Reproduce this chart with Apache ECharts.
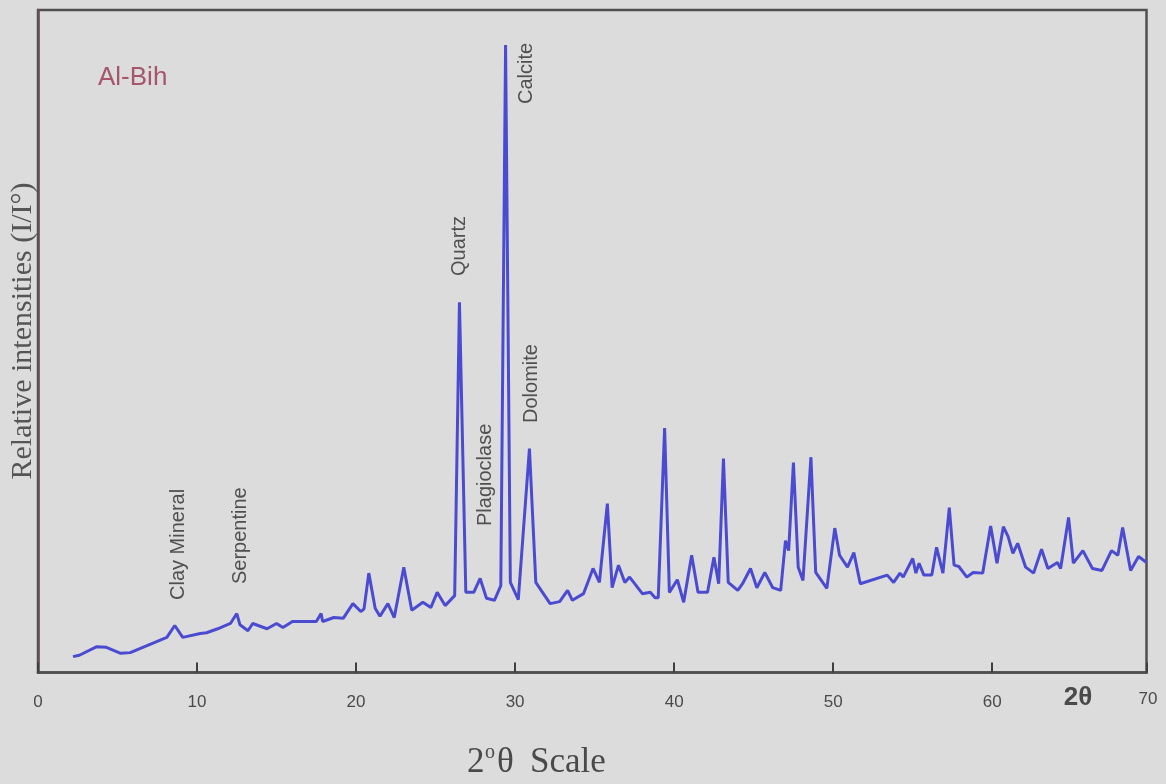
<!DOCTYPE html>
<html>
<head>
<meta charset="utf-8">
<title>Al-Bih XRD</title>
<script src="https://cdn.jsdelivr.net/npm/echarts@6/dist/echarts.min.js"></script>
<style>
  html, body { margin: 0; padding: 0; background: #dcdcdc; }
  #main { width: 1166px; height: 784px; }
</style>
</head>
<body>
<div id="main"></div>
<script>
// 2-theta positions (degrees) and relative intensity (0-100)
var twoTheta = [
  2.2, 2.6, 3.7, 4.3, 5.2, 5.8, 8.1, 8.6, 9.1, 10.2, 10.6, 11.3, 12.1, 12.5, 12.7,
  13.2, 13.5, 14.4, 15.0, 15.4, 16.0, 17.5, 17.8, 17.9, 18.6, 19.2, 19.8, 20.3, 20.5,
  20.8, 21.2, 21.5, 22.0, 22.4, 23.0, 23.5, 24.2, 24.7, 25.1, 25.6, 26.2, 26.5, 26.9,
  27.4, 27.8, 28.2, 28.7, 29.1, 29.4, 29.7, 30.2, 30.9, 31.3, 32.2, 32.8, 33.3, 33.6,
  34.3, 34.9, 35.3, 35.8, 36.1, 36.5, 36.9, 37.2, 38.0, 38.5, 38.8, 39.0, 39.4, 39.7,
  40.2, 40.6, 41.1, 41.5, 42.1, 42.5, 42.8, 43.1, 43.4, 44.0, 44.3, 44.8, 45.2, 45.7,
  46.2, 46.7, 47.0, 47.2, 47.5, 47.8, 48.1, 48.6, 48.9, 49.6, 50.1, 50.4, 50.9, 51.3,
  51.7, 53.4, 53.8, 54.2, 54.4, 55.0, 55.2, 55.4, 55.7, 56.2, 56.5, 56.9, 57.3, 57.6,
  57.9, 58.4, 58.8, 59.4, 59.9, 60.3, 60.7, 61.0, 61.3, 61.6, 62.1, 62.6, 63.1, 63.5,
  64.1, 64.3, 64.8, 65.1, 65.7, 66.3, 66.9, 67.5, 67.9, 68.2, 68.7, 69.2, 69.7
];
var intensity = [
  2.4, 2.6, 3.9, 3.8, 2.9, 3.0, 5.3, 7.1, 5.3, 5.9, 6.0, 6.6, 7.4, 8.9, 7.2,
  6.3, 7.4, 6.6, 7.4, 6.8, 7.7, 7.7, 8.9, 7.7, 8.3, 8.2, 10.4, 9.2, 9.6,
  15.0, 9.7, 8.5, 10.4, 8.3, 15.9, 9.4, 10.6, 9.8, 12.1, 10.1, 11.6, 55.9, 12.1,
  12.1, 14.2, 11.2, 10.9, 13.1, 94.7, 13.6, 11.0, 33.8, 13.6, 10.4, 10.7, 12.4, 10.9,
  11.9, 15.7, 13.6, 25.5, 12.8, 16.2, 13.6, 14.4, 11.9, 12.1, 11.3, 11.3, 36.9, 12.1,
  14.0, 10.6, 17.7, 12.1, 12.1, 17.4, 13.4, 32.3, 13.6, 12.4, 13.4, 15.7, 12.8, 15.1,
  12.8, 12.4, 19.9, 18.4, 31.7, 15.9, 13.9, 32.5, 15.1, 12.7, 21.8, 17.7, 15.9, 18.1,
  13.4, 14.7, 13.6, 15.0, 14.4, 17.2, 15.0, 16.5, 14.7, 14.7, 18.9, 15.0, 24.9, 16.2,
  16.0, 14.4, 15.1, 15.0, 22.1, 16.5, 22.0, 20.5, 18.0, 19.5, 15.9, 15.0, 18.6, 15.7,
  16.6, 15.7, 23.4, 16.5, 18.4, 15.7, 15.4, 18.4, 17.7, 21.9, 15.4, 17.5, 16.6
];
var mineralNames = ['Clay Mineral', 'Serpentine', 'Quartz', 'Plagioclase', 'Calcite', 'Dolomite'];
var xTickLabels = ['0', '10', '20', '30', '40', '50', '60'];

var points = twoTheta.map(function (t, i) { return [t, intensity[i]]; });

var myChart = echarts.init(document.getElementById('main'));

var sans = '"Liberation Sans", Arial, sans-serif';
var serif = '"Liberation Serif", "Times New Roman", serif';

// where each mineral label sits (pixel, bottom end of the vertical text)
var labelSpots = [[178, 600], [240, 584], [459, 276], [485, 526], [526, 104], [531, 423]];

var graphics = mineralNames.map(function (name, i) {
  return {
    type: 'text',
    x: labelSpots[i][0],
    y: labelSpots[i][1],
    rotation: Math.PI / 2,
    style: {
      text: name,
      font: '20px ' + sans,
      fill: '#505050',
      align: 'left',
      verticalAlign: 'middle'
    }
  };
});

graphics.push(
  {
    type: 'text', x: 98, y: 78,
    style: { text: 'Al-Bih', font: '26px ' + sans, fill: '#a5566c', align: 'left', verticalAlign: 'middle' }
  },
  {
    type: 'text', x: 23, y: 331, rotation: Math.PI / 2,
    style: { text: 'Relative intensities (I/I°)', font: '30px ' + serif, fill: '#555', align: 'center', verticalAlign: 'middle' }
  },
  // x axis title: 2 (superscript o) theta Scale
  {
    type: 'text', x: 467, y: 763,
    style: { text: '2', font: '35px ' + serif, fill: '#4a4a4a', align: 'left', verticalAlign: 'middle' }
  },
  {
    type: 'text', x: 485, y: 753,
    style: { text: 'o', font: '20px ' + serif, fill: '#4a4a4a', align: 'left', verticalAlign: 'middle' }
  },
  {
    type: 'text', x: 497, y: 763,
    style: { text: 'θ', font: '35px ' + serif, fill: '#4a4a4a', align: 'left', verticalAlign: 'middle' }
  },
  {
    type: 'text', x: 530, y: 763,
    style: { text: 'Scale', font: '35px ' + serif, fill: '#4a4a4a', align: 'left', verticalAlign: 'middle' }
  },
  {
    type: 'text', x: 1148, y: 699,
    style: { text: '70', font: '17px ' + sans, fill: '#4a4a4a', align: 'center', verticalAlign: 'middle' }
  },
  {
    type: 'text', x: 1078, y: 698,
    style: { text: '2θ', font: 'bold 26px ' + sans, fill: '#4a4a4a', align: 'center', verticalAlign: 'middle' }
  }
);

var option = {
  backgroundColor: '#dcdcdc',
  animation: false,
  grid: {
    left: 38, right: 19.5, top: 10, bottom: 111.5,
    show: true,
    borderColor: '#4f4f4f',
    borderWidth: 2.5,
    backgroundColor: 'transparent'
  },
  xAxis: {
    type: 'value',
    min: 0,
    max: 69.7,
    interval: 10,
    splitLine: { show: false },
    axisLine: { show: true, lineStyle: { color: '#4f4f4f', width: 2.5 } },
    axisTick: { show: true, inside: true, length: 10, lineStyle: { color: '#3f3f3f', width: 2 } },
    axisLabel: {
      margin: 21,
      fontSize: 17,
      fontFamily: sans,
      color: '#4a4a4a',
      formatter: function (v) { return xTickLabels[Math.round(v / 10)] || ''; }
    }
  },
  yAxis: {
    type: 'value',
    min: 0,
    max: 100,
    splitLine: { show: false },
    axisLine: { show: true, lineStyle: { color: '#5a5258', width: 2.5 } },
    axisTick: { show: false },
    axisLabel: { show: false }
  },
  series: [
    {
      type: 'line',
      data: points,
      showSymbol: false,
      smooth: false,
      lineStyle: { color: '#4b4bd2', width: 3 },
      itemStyle: { color: '#4b4bd2' }
    }
  ],
  graphic: graphics
};

myChart.setOption(option);

window.onresize = function () {
  myChart.resize();
};
</script>
</body>
</html>
